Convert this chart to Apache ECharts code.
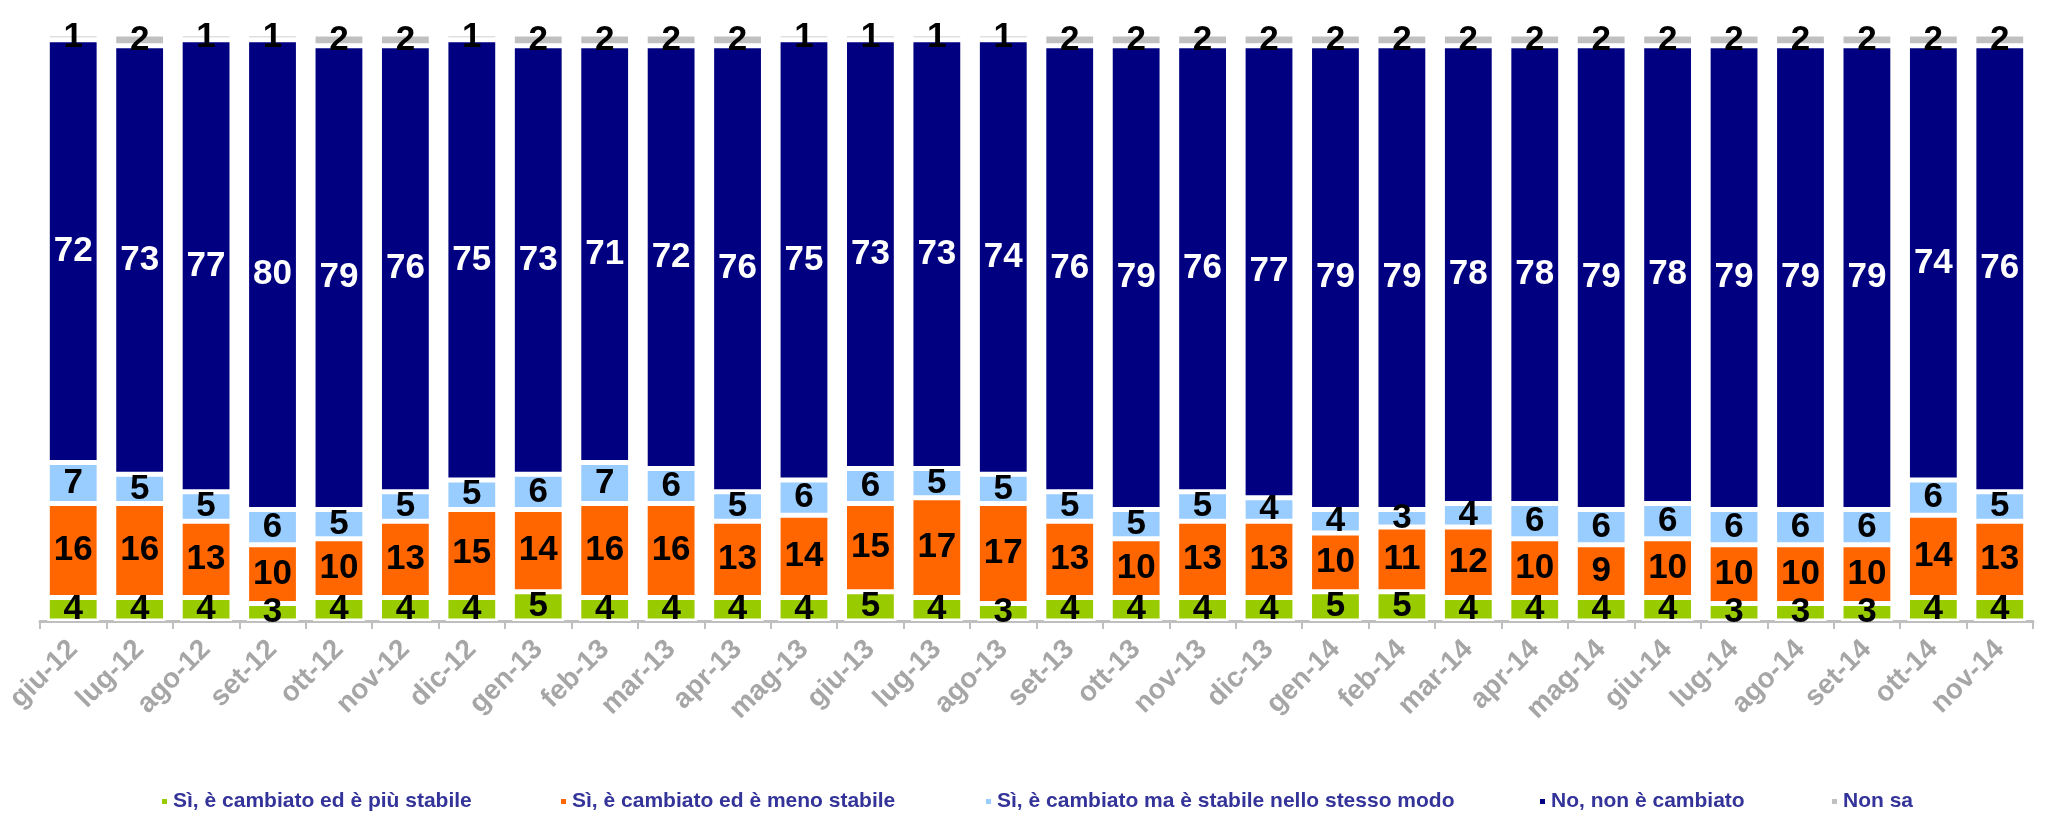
<!DOCTYPE html>
<html><head><meta charset="utf-8">
<script src="https://cdn.jsdelivr.net/npm/echarts@6/dist/echarts.min.js"></script>
<style>html,body{margin:0;padding:0;background:#fff}#c{width:2067px;height:816px}</style>
</head><body><div id="c"></div>
<script>
var categories = ["giu-12","lug-12","ago-12","set-12","ott-12","nov-12","dic-12","gen-13","feb-13","mar-13","apr-13","mag-13","giu-13","lug-13","ago-13","set-13","ott-13","nov-13","dic-13","gen-14","feb-14","mar-14","apr-14","mag-14","giu-14","lug-14","ago-14","set-14","ott-14","nov-14"];
var piuStabile  = [4,4,4,3,4,4,4,5,4,4,4,4,5,4,3,4,4,4,4,5,5,4,4,4,4,3,3,3,4,4];
var menoStabile = [16,16,13,10,10,13,15,14,16,16,13,14,15,17,17,13,10,13,13,10,11,12,10,9,10,10,10,10,14,13];
var stessoModo  = [7,5,5,6,5,5,5,6,7,6,5,6,6,5,5,5,5,5,4,4,3,4,6,6,6,6,6,6,6,5];
var nonCambiato = [72,73,77,80,79,76,75,73,71,72,76,75,73,73,74,76,79,76,77,79,79,78,78,79,78,79,79,79,74,76];
var nonSa       = [1,2,1,1,2,2,1,2,2,2,2,1,1,1,1,2,2,2,2,2,2,2,2,2,2,2,2,2,2,2];
var seriesNames = ["Sì, è cambiato ed è più stabile","Sì, è cambiato ed è meno stabile","Sì, è cambiato ma è stabile nello stesso modo","No, non è cambiato","Non sa"];
var seriesData = [piuStabile, menoStabile, stessoModo, nonCambiato, nonSa];
var colors = ["#99CC00","#FF6600","#99CCFF","#000080","#C0C0C0"];
var labelColors = ["#000","#000","#000","#fff","#000"];
var legendLeft = [155, 554, 979, 1533, 1825];

var series = seriesData.map(function(d,i){
  return {
    name: seriesNames[i], type:'bar', stack:'tot', data:d,
    barCategoryGap:'22%',
    itemStyle:{color:colors[i], borderColor:'#fff', borderWidth:2.5},
    label:{show:true, position:'inside', color:labelColors[i], fontSize:35, fontWeight:'bold', fontFamily:'Liberation Sans, Arial, sans-serif'},
    emphasis:{disabled:true}
  };
});
var legends = seriesNames.map(function(n,i){
  return {data:[n], left:legendLeft[i], top:786, icon:'rect', itemWidth:7, itemHeight:7, itemGap:4,
    textStyle:{color:'#333399', fontSize:21, fontWeight:'bold', fontFamily:'Liberation Sans, Arial, sans-serif'}, selectedMode:false};
});
var chart = echarts.init(document.getElementById('c'));
chart.setOption({
  animation:false,
  color:colors,
  legend: legends,
  grid:{left:40, right:34, top:34, bottom:195, containLabel:false},
  xAxis:{type:'category', data:categories,
    axisLine:{lineStyle:{color:'#BFBFBF', width:3}},
    axisTick:{show:true, length:8, lineStyle:{color:'#BFBFBF', width:2}},
    axisLabel:{rotate:45, interval:0, margin:24, color:'#A6A6A6', fontSize:28, fontWeight:'bold', fontFamily:'Liberation Sans, Arial, sans-serif'}
  },
  yAxis:{type:'value', min:0, max:100, show:false},
  series: series
});
</script></body></html>
